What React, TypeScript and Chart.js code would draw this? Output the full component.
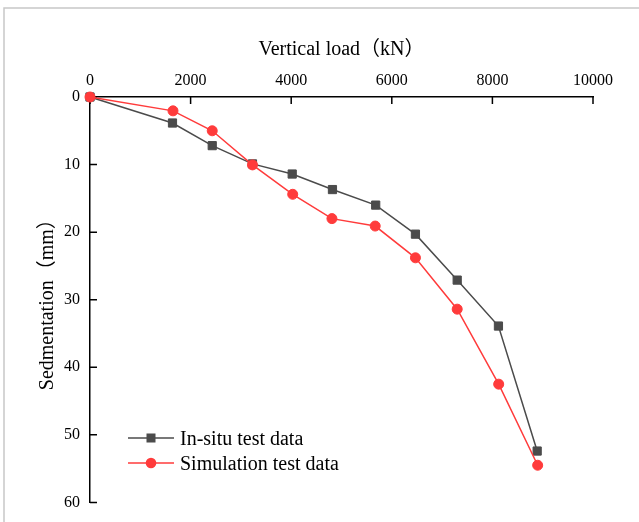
import React, { useEffect, useRef } from "react";
import { Chart, registerables } from "chart.js";

Chart.register(...registerables);

const loads_insitu = [0, 1640, 2430, 3230, 4020, 4820, 5680, 6470, 7300, 8120, 8890];
const settle_insitu = [0, 3.85, 7.2, 9.9, 11.4, 13.7, 16.0, 20.3, 27.1, 33.9, 52.4];
const loads_sim = [0, 1650, 2430, 3230, 4030, 4810, 5670, 6470, 7300, 8125, 8900];
const settle_sim = [0, 2.05, 5.0, 10.05, 14.4, 18.0, 19.1, 23.8, 31.4, 42.5, 54.5];
const seriesNames = ["In-situ test data", "Simulation test data"];
const xTitle = "Vertical load（kN）";
const yTitle = "Sedmentation（mm）";

const FONT = "'Liberation Serif', 'Times New Roman', 'Noto Sans CJK SC', serif";
const GRAY = "#4b4b4b";
const RED = "#ff3b3b";

const framePlugin = {
  id: "frame",
  beforeDraw(chart: any) {
    const ctx = chart.ctx;
    ctx.save();
    ctx.strokeStyle = "#c8c8c8";
    ctx.lineWidth = 1.5;
    ctx.beginPath();
    ctx.moveTo(4, 522);
    ctx.lineTo(4, 8);
    ctx.lineTo(639, 8);
    ctx.stroke();
    ctx.restore();
  },
};

const innerTicksPlugin = {
  id: "innerTicks",
  beforeDatasetsDraw(chart: any) {
    const ctx = chart.ctx;
    const xs = chart.scales.x;
    const ys = chart.scales.y;
    const area = chart.chartArea;
    ctx.save();
    ctx.strokeStyle = "#000";
    ctx.lineWidth = 1.5;
    ctx.beginPath();
    xs.ticks.forEach((t: any) => {
      const px = xs.getPixelForValue(t.value);
      ctx.moveTo(px, area.top);
      ctx.lineTo(px, area.top + 7);
    });
    ys.ticks.forEach((t: any) => {
      const py = ys.getPixelForValue(t.value);
      ctx.moveTo(area.left, py);
      ctx.lineTo(area.left + 7, py);
    });
    ctx.stroke();
    ctx.restore();
  },
};

const legendPlugin = {
  id: "customLegend",
  afterDraw(chart: any) {
    const ctx = chart.ctx;
    const rows = [
      { y: 438, ds: chart.data.datasets[0] },
      { y: 463, ds: chart.data.datasets[1] },
    ];
    ctx.save();
    rows.forEach((r) => {
      ctx.strokeStyle = r.ds.borderColor;
      ctx.lineWidth = 1.5;
      ctx.beginPath();
      ctx.moveTo(128, r.y);
      ctx.lineTo(174, r.y);
      ctx.stroke();
      ctx.fillStyle = r.ds.backgroundColor;
      if (r.ds.pointStyle === "rect") {
        ctx.fillRect(151 - 4.5, r.y - 4.5, 9, 9);
      } else {
        ctx.beginPath();
        ctx.arc(151, r.y, 5.3, 0, Math.PI * 2);
        ctx.fill();
      }
      ctx.fillStyle = "#000";
      ctx.font = "20px " + FONT;
      ctx.textBaseline = "alphabetic";
      ctx.textAlign = "left";
      ctx.fillText(r.ds.label, 180, r.y + 7);
    });
    ctx.restore();
  },
};

export default function App() {
  const ref = useRef<HTMLCanvasElement | null>(null);
  useEffect(() => {
    if (!ref.current) return;
    const chart = new Chart(ref.current, {
      type: "line",
      data: {
        datasets: [
          {
            label: seriesNames[0],
            data: loads_insitu.map((x, i) => ({ x, y: settle_insitu[i] })),
            borderColor: GRAY,
            backgroundColor: GRAY,
            borderWidth: 1.5,
            pointStyle: "rect",
            pointRadius: 5.8,
            pointBorderWidth: 1,
            pointBorderColor: GRAY,
            pointBackgroundColor: GRAY,
            clip: false as any,
            order: 1,
          },
          {
            label: seriesNames[1],
            data: loads_sim.map((x, i) => ({ x, y: settle_sim[i] })),
            borderColor: RED,
            backgroundColor: RED,
            borderWidth: 1.5,
            pointStyle: "circle",
            pointRadius: 5,
            pointBorderWidth: 1,
            pointBorderColor: RED,
            pointBackgroundColor: RED,
            clip: false as any,
            order: 0,
          },
        ],
      },
      options: {
        animation: false,
        responsive: false,
        devicePixelRatio: 1,
        layout: { padding: { left: 0, top: 0, right: 46, bottom: 19 } },
        plugins: { legend: { display: false }, tooltip: { enabled: false } },
        scales: {
          x: {
            type: "linear",
            position: "top",
            min: 0,
            max: 10000,
            ticks: {
              stepSize: 2000,
              padding: 7,
              color: "#000",
              font: { family: FONT, size: 16 },
              callback: (v: any) => String(v),
            },
            grid: { drawOnChartArea: false, drawTicks: false },
            border: { display: true, color: "#000", width: 1.5 },
            title: {
              display: true,
              text: xTitle,
              color: "#000",
              font: { family: FONT, size: 20 },
              padding: { top: 38, bottom: 0 },
            },
            afterFit: (s: any) => {
              s.height = 97;
            },
          },
          y: {
            type: "linear",
            reverse: true,
            min: 0,
            max: 60,
            ticks: {
              stepSize: 10,
              padding: 10,
              color: "#000",
              font: { family: FONT, size: 16 },
              callback: (v: any) => String(v),
            },
            grid: { drawOnChartArea: false, drawTicks: false },
            border: { display: true, color: "#000", width: 1.5 },
            title: {
              display: true,
              text: yTitle,
              color: "#000",
              font: { family: FONT, size: 20 },
              padding: { top: 36, bottom: 0 },
            },
            afterFit: (s: any) => {
              s.width = 90;
            },
          },
        },
      },
      plugins: [framePlugin, innerTicksPlugin, legendPlugin],
    } as any);
    return () => chart.destroy();
  }, []);
  return (
    <div style={{ position: "absolute", left: 0, top: 0, width: 639, height: 522, background: "#fff" }}>
      <canvas ref={ref} width={639} height={522} style={{ width: 639, height: 522, display: "block" }} />
    </div>
  );
}
